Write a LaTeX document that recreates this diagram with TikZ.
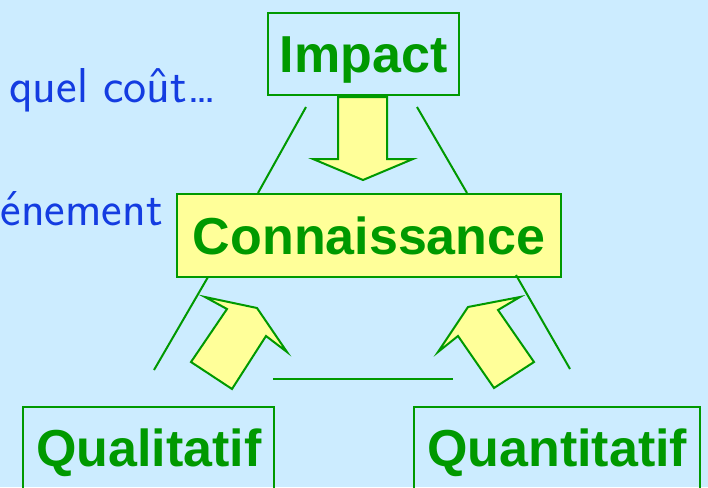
\documentclass[tikz,border=0pt]{standalone}
\usepackage{fontspec}
\setmainfont{Liberation Sans}
\definecolor{skybg}{RGB}{204,236,255}
\definecolor{leaf}{RGB}{0,153,0}
\definecolor{pale}{RGB}{255,255,153}
\definecolor{ink}{RGB}{20,60,225}
\tikzset{
  box/.style={draw=leaf, line width=2.4pt, inner sep=0pt, anchor=north west,
    font=\fontsize{52}{52}\selectfont\bfseries, text=leaf,
    text height=37pt, text depth=0pt},
  lightbox/.style={box, fill=pale},
  side/.style={draw=leaf, line width=2pt},
  blockarrow/.style={draw=leaf, fill=pale, line width=2pt, line join=miter},
  remark/.style={font=\sffamily\fontsize{49}{49}\selectfont, text=ink, inner sep=0pt}
}
\begin{document}
\begin{tikzpicture}[x=1pt, y=-1pt]
  \useasboundingbox (0,0) rectangle (708,487);
  \clip (0,0) rectangle (708,487);
  \fill[skybg] (0,0) rectangle (708,487);

  % boxes
  \node[box, minimum width=191pt, minimum height=82pt] (impact) at (267,12) {Impact};
  \node[lightbox, minimum width=384pt, minimum height=83pt] (conn) at (176,193) {Connaissance};
  \node[box, minimum width=251pt, minimum height=94pt, text depth=13pt] (quali) at (22,406) {Qualitatif};
  \node[box, minimum width=286pt, minimum height=94pt, text depth=13pt] (quanti) at (413,406) {Quantitatif};

  % side remarks
  \node[remark, anchor=base west] (cost) at (9,102) {quel coût\ldots};
  \node[remark, anchor=base east] (event) at (163,225) {énement};

  % triangle sides
  \coordinate (t1) at (306,107); \coordinate (t2) at (258,193);
  \coordinate (t3) at (417,107); \coordinate (t4) at (467,193);
  \coordinate (b1) at (208,277); \coordinate (b2) at (154,370);
  \coordinate (b3) at (516,275); \coordinate (b4) at (570,369);
  \coordinate (h1) at (273,379); \coordinate (h2) at (453,379);
  \draw[side] (t1) -- (t2);
  \draw[side] (t3) -- (t4);
  \draw[side] (b1) -- (b2);
  \draw[side] (b3) -- (b4);
  \draw[side] (h1) -- (h2);

  % block arrows
  \draw[blockarrow] (338,97) -- (387,97) -- (387,159) -- (413,159) -- (363,180)
    -- (313,159) -- (338,159) -- cycle;
  \draw[blockarrow] (205,297) -- (257,308) -- (287,352) -- (266,336) -- (232,389)
    -- (191,362) -- (227,309) -- cycle;
  \draw[blockarrow] (520,297) -- (468,307) -- (438,352) -- (458,336) -- (494,388)
    -- (534,362) -- (498,310) -- cycle;
\end{tikzpicture}
\end{document}
